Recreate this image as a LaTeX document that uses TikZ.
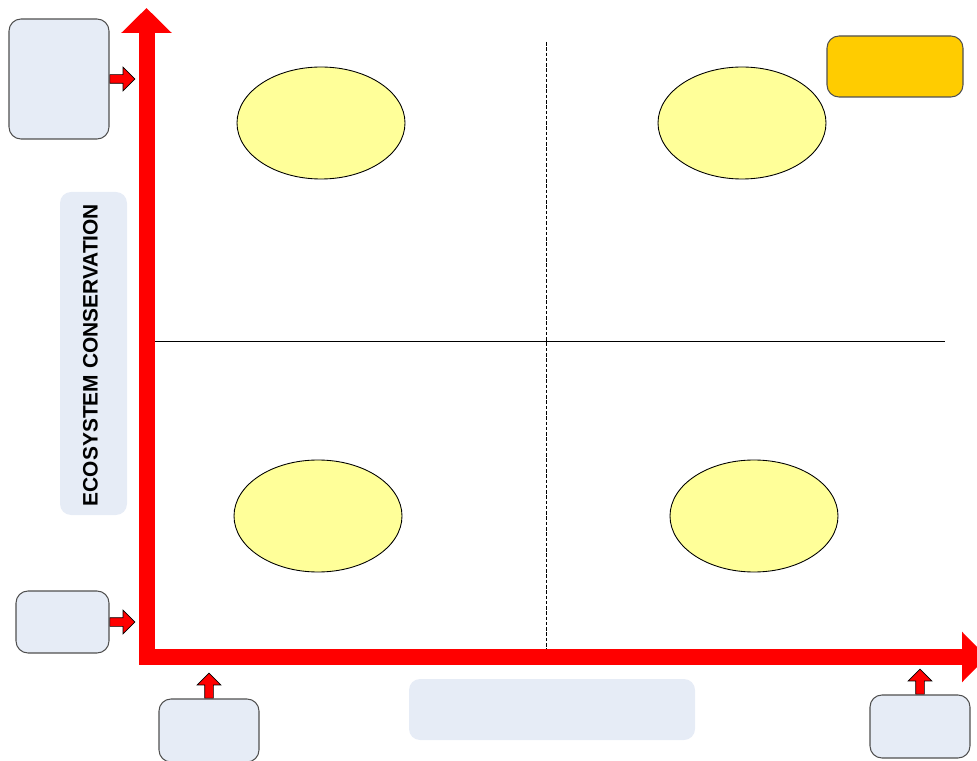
\documentclass[tikz,border=0pt]{standalone}
\usepackage{fontspec}
\setmainfont{Liberation Sans}
\usetikzlibrary{shapes.geometric, shapes.arrows, arrows.meta, positioning}
\definecolor{axisred}{RGB}{255,0,0}
\definecolor{cellyellow}{RGB}{255,255,153}
\definecolor{notebg}{RGB}{230,236,246}
\definecolor{noteborder}{RGB}{80,80,80}
\definecolor{tagorange}{RGB}{255,204,0}
\tikzset{
  axisline/.style={
    draw=axisred, line width=0.32cm, line join=miter,
    {Triangle[length=0.5cm,width=0.98cm]}-{Triangle[length=0.5cm,width=0.98cm]}
  },
  quadline/.style={draw=black, line width=0.5pt},
  cell/.style={
    ellipse, draw=black, fill=cellyellow, line width=0.5pt,
    minimum width=3.36cm, minimum height=2.24cm
  },
  notebox/.style={
    draw=noteborder, fill=notebg, line width=0.6pt,
    rounded corners=0.24cm
  },
  labelbox/.style={
    fill=notebg, rounded corners=0.22cm, inner sep=0pt
  },
  tagbox/.style={
    draw=noteborder, fill=tagorange, line width=0.6pt,
    rounded corners=0.24cm, minimum width=2.72cm, minimum height=1.22cm
  },
  pointer/.style={
    single arrow, draw=black, fill=axisred, line width=0.4pt,
    minimum height=0.5cm, inner sep=0.08cm,
    single arrow head extend=0.15cm, single arrow head indent=0pt
  },
}
\begin{document}
\begin{tikzpicture}

  \useasboundingbox (0,0) rectangle (19.54,-15.22);

  %% axes
  \coordinate (ytop) at (2.93,-0.16);
  \coordinate (origin) at (2.93,-13.14);
  \coordinate (xend) at (19.74,-13.14);
  \draw[axisline] (ytop) -- (origin) -- (xend);

  %% quadrant dividers
  \coordinate (hl) at (3.10,-6.82);
  \coordinate (hr) at (18.90,-6.82);
  \coordinate (vt) at (10.92,-0.84);
  \coordinate (vb) at (10.92,-12.98);
  \draw[quadline] (hl) -- (hr);
  \draw[quadline, dash pattern=on 2pt off 1pt] (vt) -- (vb);

  %% quadrants
  \node[cell] (q1) at (6.42,-2.46) {};
  \node[cell] (q2) at (14.84,-2.46) {};
  \node[cell] (q3) at (6.36,-10.32) {};
  \node[cell] (q4) at (15.08,-10.32) {};

  %% axis notes
  \node[notebox, minimum width=2.0cm, minimum height=2.4cm] (ytopnote) at (1.18,-1.58) {};
  \node[notebox, minimum width=1.86cm, minimum height=1.24cm] (ylownote) at (1.25,-12.44) {};
  \node[notebox, minimum width=2.0cm, minimum height=1.26cm] (xlownote) at (4.18,-14.61) {};
  \node[notebox, minimum width=2.0cm, minimum height=1.26cm] (xtopnote) at (18.40,-14.53) {};

  \node[pointer, anchor=tail] (p1) at (ytopnote.east) {};
  \node[pointer, anchor=tail] (p2) at (ylownote.east) {};
  \node[pointer, rotate=90, anchor=tail] (p3) at (xlownote.north) {};
  \node[pointer, rotate=90, anchor=tail] (p4) at (xtopnote.north) {};

  %% axis titles
  \node[labelbox, minimum width=1.34cm, minimum height=6.46cm] (ytitle) at (1.87,-7.07) {};
  \node[rotate=90, font=\fontsize{11.9}{14}\selectfont\bfseries] (ytext)
    at (1.81,-7.10) {ECOSYSTEM CONSERVATION};
  \node[labelbox, minimum width=5.72cm, minimum height=1.22cm] (xtitle) at (11.04,-14.19) {};

  %% tag
  \node[tagbox] (tag) at (17.90,-1.33) {};

\end{tikzpicture}
\end{document}
